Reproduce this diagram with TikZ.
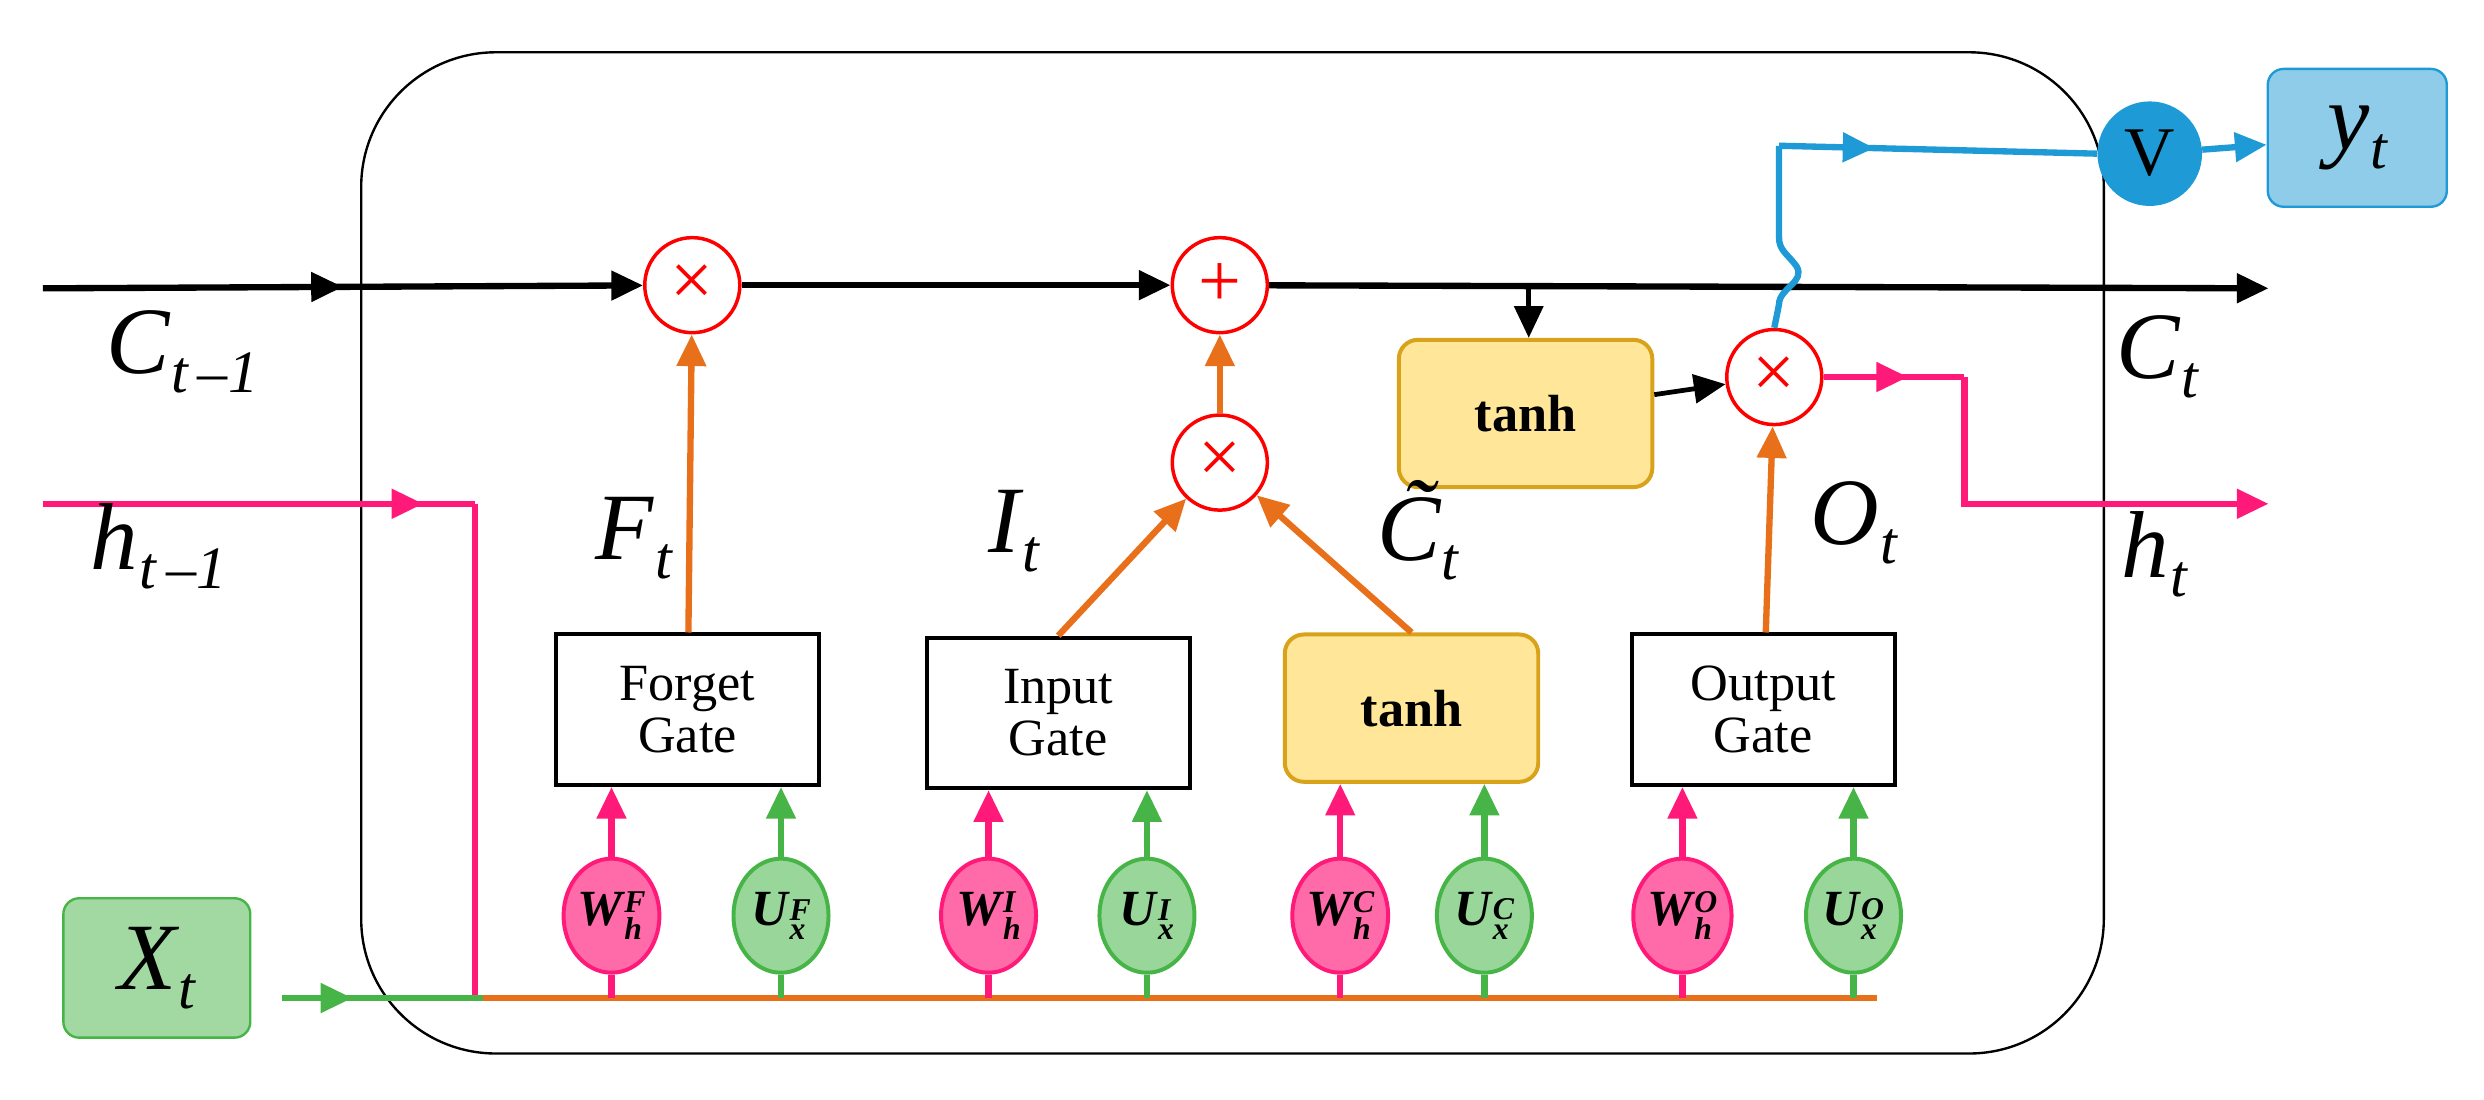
\documentclass[tikz,border=0pt]{standalone}
\usepackage{fontspec}
\setmainfont{Liberation Serif}
\usetikzlibrary{arrows.meta,decorations.markings,shapes.geometric}
\definecolor{cpink}{HTML}{FF1A7A}
\definecolor{cgreen}{HTML}{46B446}
\definecolor{corange}{HTML}{E8701A}
\definecolor{cblue}{HTML}{1E9AD6}
\definecolor{cyel}{HTML}{FFE699}
\definecolor{cyelb}{HTML}{D9A21B}
\newcommand{\mywl}[3]{{\bfseries\itshape #1\kern1pt\raisebox{-9pt}{\fontsize{20}{17}\selectfont\shortstack[l]{#2\\#3}}}}
\newcommand{\mylab}[2]{{\itshape #1\kern1pt\raisebox{-12pt}{\fontsize{38}{38}\selectfont #2}}}
\begin{document}
\begin{tikzpicture}[x=1pt,y=-1pt,
  tip/.style={-{Triangle[length=20pt,width=18pt]}},
  mid/.style={postaction={decorate},decoration={markings,mark=at position #1 with {\arrow{Triangle[length=20pt,width=18pt]}}}},
  op/.style={circle,draw=red,line width=2.2pt,fill=white,minimum size=60pt,inner sep=0pt,text=red,font=\fontsize{48}{48}\selectfont},
  gate/.style={draw,line width=2.5pt,minimum width=166pt,minimum height=95pt,align=center,font=\fontsize{33}{33}\selectfont,inner sep=0pt},
  th/.style={draw=cyelb,fill=cyel,line width=2.5pt,rounded corners=12pt,minimum width=160pt,minimum height=93pt,font=\fontsize{33}{33}\selectfont\bfseries},
  wc/.style={ellipse,draw=cpink,fill=cpink!65,line width=2.5pt,minimum width=60pt,minimum height=72pt,inner sep=0pt,font=\fontsize{32}{32}\selectfont},
  uc/.style={ellipse,draw=cgreen,fill=cgreen!55,line width=2.5pt,minimum width=60pt,minimum height=72pt,inner sep=0pt,font=\fontsize{32}{32}\selectfont},
  lab/.style={font=\fontsize{60}{60}\selectfont},
  ln/.style={line width=4pt}]
\useasboundingbox (0,0) rectangle (1568,694);
\draw[line width=1.5pt,rounded corners=85pt] (228,33) rectangle (1328,665);

% nodes
\node[op] (fx) at (437,180) {×};
\node[op] (pl) at (770,180) {+};
\node[op] (ix) at (770,292) {×};
\node[op] (ox) at (1120,238) {×};
\node[th] (t1) at (963,261) {tanh};
\node[th] (t2) at (891,447) {tanh};
\node[gate] (fg) at (434,448) {Forget\\Gate};
\node[gate] (ig) at (668,450) {Input\\Gate};
\node[gate] (og) at (1113,448) {Output\\Gate};
\node[circle,fill=cblue,minimum size=66pt,inner sep=0pt,font=\fontsize{44}{44}\selectfont] (v) at (1357,97) {V};
\node[draw=cblue,fill=cblue!50,rounded corners=10pt,line width=1.5pt,minimum width=113pt,minimum height=87pt] (y) at (1488,87) {};
\node[lab] at (y) {\mylab{y}{t}};
\node[draw=cgreen,fill=cgreen!50,rounded corners=10pt,line width=1.5pt,minimum width=118pt,minimum height=88pt] (x) at (99,611) {};
\node[lab] at (x) {\mylab{X}{t}};

\foreach \n/\xx/\s/\sp in {wf/386/wc/F,wi/624/wc/I,wcc/846/wc/C,wo/1062/wc/O}
  \node[\s] (\n) at (\xx,578) {\mywl{W}{\sp}{h}};
\foreach \n/\xx/\s/\sp in {uf/493/uc/F,ui/724/uc/I,ucc/937/uc/C,uo/1170/uc/O}
  \node[\s] (\n) at (\xx,578) {\mywl{U}{\sp}{x}};

\coordinate (cs) at (27,182); \coordinate (ce) at (1432,182);
\coordinate (hs) at (27,318); \coordinate (hc) at (300,318); \coordinate (hb) at (300,630);
\coordinate (xs) at (178,630); \coordinate (bs) at (305,630); \coordinate (be) at (1185,630);
\coordinate (he) at (1432,318); \coordinate (hr) at (1240,238);

% cell line
\draw[ln,mid=0.5,tip] (cs) -- (fx);
\draw[ln,tip] (fx) -- (pl);
\draw[ln,tip] (pl) -- (ce);
\draw[line width=3pt,tip] (965,182) -- (t1.north-|965,0);
\draw[line width=3pt,tip] (t1) -- (ox);

% h path
\draw[ln,cpink,mid=0.88] (hs) -- (hc);
\draw[ln,cpink] (hc) -- (hb);
\draw[ln,cpink,mid=0.6] (ox.east) -- (hr);
\draw[ln,cpink,tip] (hr) -- (1240,318) -- (he);
\draw[ln,cgreen,mid=0.35] (xs) -- (bs);
\draw[ln,corange] (bs) -- (be);

% blue
\draw[ln,cblue] (ox.north) -- (1123,192) .. controls (1123,182) and (1140,178) .. (1134,168)
  .. controls (1128,160) and (1123,158) .. (1123,150) -- (1123,92);
\draw[ln,cblue,mid=0.3] (1123,92) -- (v.west);
\draw[ln,cblue,tip] (v) -- (y);

% orange
\draw[ln,corange,tip] (fg) -- (fx);
\draw[ln,corange,tip] (ig.north) -- (ix);
\draw[ln,corange,tip] (t2.north) -- (ix);
\draw[ln,corange,tip] (ix) -- (pl);
\draw[ln,corange,tip] (og) -- (ox);

% weights
\foreach \w/\g in {wf/fg,wi/ig,wcc/t2,wo/og}{
  \draw[ln,cpink] (\w.south) -- (\w.south|-bs);
  \draw[ln,cpink,tip] (\w.north) -- (\w.north|-\g.south);}
\foreach \w/\g in {uf/fg,ui/ig,ucc/t2,uo/og}{
  \draw[ln,cgreen] (\w.south) -- (\w.south|-bs);
  \draw[ln,cgreen,tip] (\w.north) -- (\w.north|-\g.south);}

% labels
\node[lab] at (115,222) {\mylab{C}{t\,–1}};
\node[lab] at (100,345) {\mylab{h}{t\,–1}};
\node[lab] at (400,340) {\mylab{F}{t}};
\node[lab] at (640,335) {\mylab{I}{t}};
\node[lab] at (895,335) {\mylab{\~{C}}{t}};
\node[lab] at (1170,330) {\mylab{O}{t}};
\node[lab] at (1362,225) {\mylab{C}{t}};
\node[lab] at (1360,350) {\mylab{h}{t}};
\end{tikzpicture}
\end{document}
